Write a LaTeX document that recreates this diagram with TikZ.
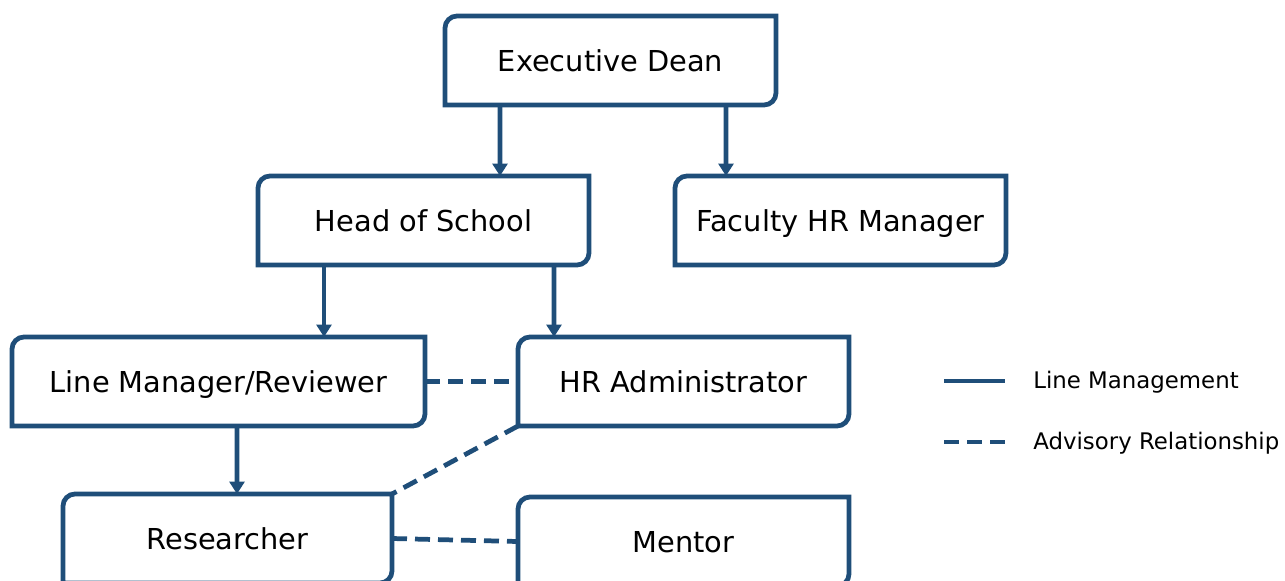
\documentclass[tikz,border=0pt]{standalone}
\usepackage{fontspec}
\setmainfont{DejaVu Sans}
\usepackage{tikz}
\usetikzlibrary{positioning,arrows.meta}
\definecolor{orgblue}{RGB}{31,78,121}
\def\rr{0.24cm}
\newcommand\outlinebox[1]{\draw[boxline] (#1.north east) -- ([xshift=\rr]#1.north west) arc[start angle=90,end angle=180,radius=\rr] -- (#1.south west) -- ([xshift=-\rr]#1.south east) arc[start angle=270,end angle=360,radius=\rr] -- cycle;}

\begin{document}
\begin{tikzpicture}[on grid,
	role/.style={rectangle,inner sep=0pt,outer sep=0pt,minimum width=6.62cm,minimum height=1.78cm,text height=14pt,text depth=1pt,font=\fontsize{16.4}{19}\selectfont},
	boxline/.style={draw=orgblue,line width=2.7pt,line join=miter},
	mgmt/.style={draw=orgblue,line width=2.7pt,-{Triangle[width=0.3cm,length=0.25cm]}},
	advice/.style={draw=orgblue,line width=2.7pt,dash pattern=on 0.3cm off 0.16cm},
	keytext/.style={anchor=west,inner sep=0pt,font=\fontsize{13}{15}\selectfont}]
\useasboundingbox (0,0) rectangle (25.7,-11.6);
\node[role]							(ed)		at (12.21,-1.21)						{Executive Dean};
\node[role]							(hs)		[below left=3.2cm and 3.74cm of ed]		{Head of School};
\node[role]							(fhr)		[right=8.34cm of hs]					{Faculty HR Manager};
\node[role,minimum width=8.26cm]	(lm)		[below left=3.22cm and 4.1cm of hs]		{Line Manager/Reviewer};
\node[role]							(hra)		[right=9.3cm of lm]						{HR Administrator};
\node[role,minimum width=6.58cm]	(res)		[below right=3.14cm and 0.18cm of lm]	{Researcher};
\node[role]							(men)		[below=3.2cm of hra]					{Mentor};
\foreach \n in {ed,hs,fhr,lm,hra,res,men} \outlinebox{\n};
% line management
\draw[mgmt] ([xshift=-2.21cm]ed.south) -- ([xshift=1.53cm]hs.north);
\draw[mgmt] ([xshift=2.31cm]ed.south) -- ([xshift=-2.29cm]fhr.north);
\draw[mgmt] ([xshift=-1.99cm]hs.south) -- ([xshift=2.11cm]lm.north);
\draw[mgmt] ([xshift=2.61cm]hs.south) -- ([xshift=-2.59cm]hra.north);
\draw[mgmt] ([xshift=0.37cm]lm.south) -- ([xshift=0.19cm]res.north);
% advisory
\draw[advice] (lm.east) -- (hra.west);
\draw[advice] (hra.south west) -- (res.north east);
\draw[advice] (res.east) -- (men.west);
% key
\coordinate (k1a) at (18.88,-7.62);
\coordinate (k1b) at (20.1,-7.62);
\coordinate (k2a) at (18.88,-8.84);
\coordinate (k2b) at (20.1,-8.84);
\draw[boxline] (k1a) -- (k1b);
\draw[advice] (k2a) -- (k2b);
\node[keytext]	(k1)	at (20.66,-7.64)	{Line Management};
\node[keytext]	(k2)	at (20.66,-8.86)	{Advisory Relationship};
\end{tikzpicture}
\end{document}
